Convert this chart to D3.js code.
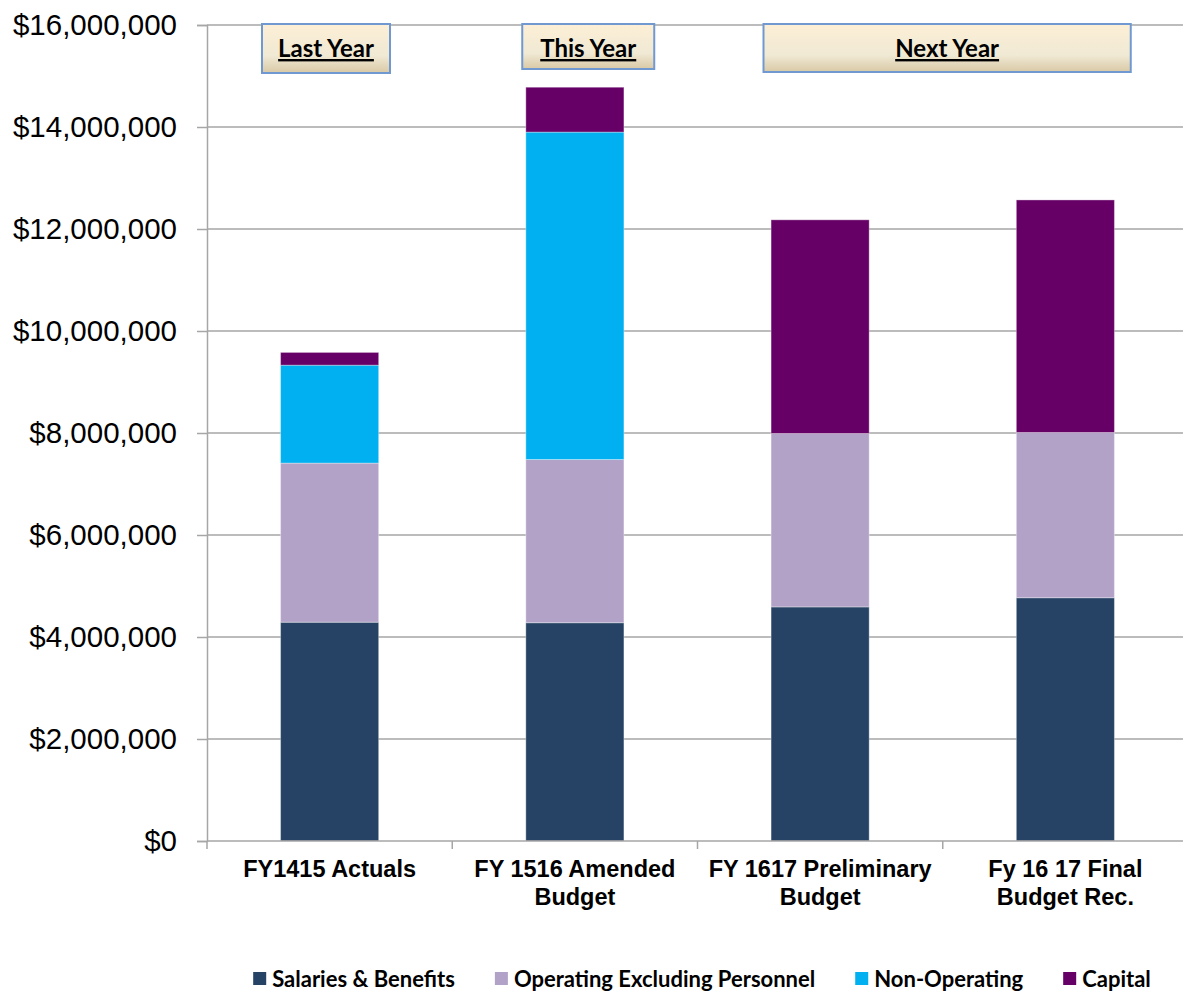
<!DOCTYPE html>
<html>
<head>
<meta charset="utf-8">
<script src="https://cdn.jsdelivr.net/npm/d3@7/dist/d3.min.js"></script>
<style>
  html, body { margin: 0; padding: 0; background: #fff; }
  svg { display: block; }
</style>
</head>
<body>
<svg id="chart" width="1183" height="991"></svg>
<script>
// Budget by fiscal year, stacked by expense type
const categories = ["FY1415 Actuals", "FY 1516 Amended\nBudget", "FY 1617 Preliminary\nBudget", "Fy 16 17 Final\nBudget Rec."];
const seriesNames = ["Salaries & Benefits", "Operating Excluding Personnel", "Non-Operating", "Capital"];
const salaries     = [4290000, 4280000, 4590000, 4770000];
const operating    = [3120000, 3200000, 3400000, 3240000];
const nonOperating = [1920000, 6420000, 0, 0];
const capital      = [250000, 880000, 4190000, 4560000];
const yTicks = [0, 2000000, 4000000, 6000000, 8000000, 10000000, 12000000, 14000000, 16000000];
const headerLabels = ["Last Year", "This Year", "Next Year"];

const colors = ["#264264", "#b2a2c7", "#00b0f0", "#660066"];

const svg = d3.select("#chart");
const plotLeft = 207, plotRight = 1188, plotTop = 25, plotBottom = 841;

const rows = categories.map((c, i) => ({
  cat: c,
  [seriesNames[0]]: salaries[i],
  [seriesNames[1]]: operating[i],
  [seriesNames[2]]: nonOperating[i],
  [seriesNames[3]]: capital[i]
}));
const stacked = d3.stack().keys(seriesNames)(rows);

const x = d3.scaleBand().domain(categories).range([plotLeft, plotRight]).paddingInner(0.6).paddingOuter(0.3);
const y = d3.scaleLinear().domain([0, 16000000]).range([plotBottom, plotTop]);
const color = d3.scaleOrdinal().domain(seriesNames).range(colors);

// horizontal gridlines
svg.append("g").selectAll("line")
  .data(yTicks.filter(t => t > 0))
  .join("line")
  .attr("x1", plotLeft).attr("x2", plotRight)
  .attr("y1", d => y(d)).attr("y2", d => y(d))
  .attr("stroke", "#a6a6a6").attr("stroke-width", 1.5);

// stacked bars
svg.append("g").selectAll("g")
  .data(stacked)
  .join("g")
  .attr("fill", d => color(d.key))
  .selectAll("rect")
  .data(d => d.filter(p => p[1] - p[0] > 0))
  .join("rect")
  .attr("x", d => x(d.data.cat))
  .attr("width", x.bandwidth())
  .attr("y", d => y(d[1]))
  .attr("height", d => y(d[0]) - y(d[1]))
  .attr("stroke", "#ffffff").attr("stroke-opacity", 0.35).attr("stroke-width", 1);

// y axis
const yAxis = d3.axisLeft(y).tickValues(yTicks).tickSize(10).tickPadding(20)
  .tickFormat(d => "$" + d3.format(",")(d));
const yg = svg.append("g").attr("transform", `translate(${plotLeft},0)`).call(yAxis);
yg.select(".domain").attr("stroke", "#a6a6a6").attr("stroke-width", 1.5);
yg.selectAll(".tick line").attr("stroke", "#a6a6a6").attr("stroke-width", 1.5);
yg.selectAll(".tick text")
  .attr("font-family", "Liberation Sans, Arial, sans-serif")
  .attr("font-size", 29.5).attr("fill", "#000");

// x axis baseline with tick marks at category boundaries
const xg = svg.append("g");
xg.append("line").attr("x1", plotLeft).attr("x2", plotRight).attr("y1", plotBottom).attr("y2", plotBottom)
  .attr("stroke", "#a6a6a6").attr("stroke-width", 1.5);
const bounds = d3.range(categories.length + 1).map(i => plotLeft + i * x.step());
xg.selectAll("line.tk").data(bounds).join("line").attr("class", "tk")
  .attr("x1", d => d).attr("x2", d => d).attr("y1", plotBottom).attr("y2", plotBottom + 8)
  .attr("stroke", "#a6a6a6").attr("stroke-width", 1.5);

// category labels
const catText = xg.selectAll("text.cat").data(categories).join("text").attr("class", "cat")
  .attr("x", d => x(d) + x.bandwidth() / 2)
  .attr("y", plotBottom + 36)
  .attr("text-anchor", "middle")
  .attr("font-family", "Liberation Sans, Arial, sans-serif")
  .attr("font-weight", "bold").attr("font-size", 23.5).attr("fill", "#000");
catText.each(function(d) {
  const t = d3.select(this);
  d.split("\n").forEach((line, i) => {
    t.append("tspan").attr("x", x(d) + x.bandwidth() / 2).attr("dy", i === 0 ? 0 : 28).text(line);
  });
});

// period header boxes
const defs = svg.append("defs");
const grad = defs.append("linearGradient").attr("id", "hdrFill").attr("x1", 0).attr("x2", 0).attr("y1", 0).attr("y2", 1);
grad.append("stop").attr("offset", "0%").attr("stop-color", "#fdefd6");
grad.append("stop").attr("offset", "65%").attr("stop-color", "#f0e9d4");
grad.append("stop").attr("offset", "100%").attr("stop-color", "#d9c9a6");

const step = x.step();
const headerBoxes = [
  { x0: plotLeft + 55, x1: plotLeft + 183, h: 49 },
  { x0: plotLeft + step + 70, x1: plotLeft + step + 202, h: 45 },
  { x0: plotLeft + 2 * step + 66, x1: plotLeft + 3 * step + 188, h: 48 }
];
const hg = svg.append("g").selectAll("g").data(headerLabels).join("g");
hg.append("rect")
  .attr("x", (d, i) => headerBoxes[i].x0)
  .attr("y", 24)
  .attr("width", (d, i) => headerBoxes[i].x1 - headerBoxes[i].x0)
  .attr("height", (d, i) => headerBoxes[i].h)
  .attr("fill", "url(#hdrFill)")
  .attr("stroke", "#6f99d0").attr("stroke-width", 2);
hg.append("text")
  .attr("x", (d, i) => (headerBoxes[i].x0 + headerBoxes[i].x1) / 2)
  .attr("y", 57)
  .attr("text-anchor", "middle")
  .attr("font-family", "Lato, Carlito, Calibri, sans-serif")
  .attr("font-weight", "bold").attr("font-size", 24)
  .attr("text-decoration", "underline")
  .attr("fill", "#000")
  .text(d => d);

// legend
const lg = svg.append("g");
const legendY = 979;
const items = lg.selectAll("g").data(seriesNames).join("g");
items.append("rect").attr("width", 13).attr("height", 13).attr("y", legendY - 7)
  .attr("fill", d => color(d));
items.append("text").attr("x", 19).attr("y", legendY + 8)
  .attr("font-family", "Lato, Carlito, Calibri, sans-serif")
  .attr("font-weight", "bold").attr("font-size", 22).attr("fill", "#000")
  .text(d => d);
let cx = 0;
const offsets = [];
items.each(function() {
  offsets.push(cx);
  const w = d3.select(this).select("text").node().getComputedTextLength();
  cx += 19 + w + 40;
});
const total = cx - 40;
const startX = 702 - total / 2;
items.attr("transform", (d, i) => `translate(${startX + offsets[i]},0)`);
</script>
</body>
</html>
